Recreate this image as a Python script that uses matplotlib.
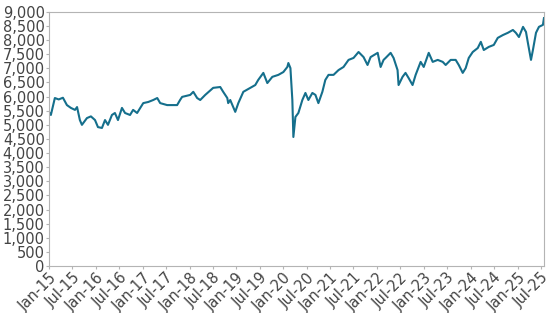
import matplotlib
matplotlib.use('Agg')
from matplotlib import pyplot as plt
import matplotlib.dates as mdates
from matplotlib.ticker import MultipleLocator, FuncFormatter
import pandas as pd

# values
dates = [
    '2015-01-02', '2015-01-16', '2015-02-16', '2015-03-18', '2015-04-20', '2015-05-21',
    '2015-06-21', '2015-07-23', '2015-08-08', '2015-08-30', '2015-09-15', '2015-10-24',
    '2015-11-24', '2015-12-26', '2016-01-18', '2016-02-18', '2016-03-13', '2016-04-05',
    '2016-05-06', '2016-05-29', '2016-06-22', '2016-07-23', '2016-08-16', '2016-09-24',
    '2016-10-18', '2016-11-18', '2017-01-05', '2017-02-13', '2017-03-24', '2017-04-24',
    '2017-05-17', '2017-07-10', '2017-09-26', '2017-10-19', '2017-11-04', '2018-01-06',
    '2018-01-30', '2018-03-01', '2018-03-25', '2018-05-03', '2018-07-04', '2018-08-28',
    '2018-09-20', '2018-10-22', '2018-10-29', '2018-11-14', '2018-12-07', '2018-12-23',
    '2019-01-16', '2019-02-24', '2019-04-19', '2019-05-28', '2019-06-20', '2019-07-30',
    '2019-08-30', '2019-10-08', '2019-11-24', '2020-01-02', '2020-02-02', '2020-02-10',
    '2020-02-26', '2020-03-12', '2020-03-20', '2020-04-05', '2020-04-28', '2020-05-29',
    '2020-06-22', '2020-07-15', '2020-08-15', '2020-09-08', '2020-10-01', '2020-11-01',
    '2020-11-24', '2020-12-19', '2021-01-27', '2021-03-07', '2021-04-15', '2021-05-24',
    '2021-07-02', '2021-08-10', '2021-09-18', '2021-10-19', '2021-11-12', '2022-01-06',
    '2022-01-29', '2022-02-21', '2022-03-09', '2022-04-17', '2022-05-10', '2022-06-10',
    '2022-06-18', '2022-07-19', '2022-08-11', '2022-09-04', '2022-10-05', '2022-10-29',
    '2022-12-07', '2022-12-31', '2023-02-08', '2023-03-11', '2023-04-19', '2023-05-28',
    '2023-06-20', '2023-07-29', '2023-09-06', '2023-09-30', '2023-10-31', '2023-11-23',
    '2023-12-17', '2024-01-17', '2024-02-25', '2024-03-20', '2024-04-12', '2024-05-21',
    '2024-06-29', '2024-07-30', '2024-09-08', '2024-10-17', '2024-11-25', '2024-12-18',
    '2025-01-11', '2025-02-12', '2025-03-07', '2025-03-22', '2025-04-15', '2025-04-30',
    '2025-05-24', '2025-06-16', '2025-07-17', '2025-07-25',
]
values = [
    5450, 5350, 5950, 5900, 5960, 5700,
    5600, 5530, 5630, 5170, 5000, 5240,
    5300, 5170, 4920, 4890, 5170, 5000,
    5350, 5420, 5170, 5600, 5420, 5350,
    5530, 5420, 5770, 5810, 5880, 5950,
    5770, 5700, 5700, 5880, 5990, 6060,
    6170, 5950, 5880, 6060, 6310, 6340,
    6170, 5950, 5770, 5880, 5630, 5460,
    5770, 6170, 6310, 6410, 6590, 6840,
    6480, 6700, 6770, 6870, 7050, 7190,
    7010, 5880, 4570, 5280, 5420, 5880,
    6130, 5880, 6130, 6060, 5770, 6170,
    6590, 6770, 6770, 6940, 7050, 7300,
    7370, 7580, 7400, 7120, 7400, 7550,
    7050, 7300, 7370, 7550, 7370, 6940,
    6410, 6700, 6840, 6660, 6410, 6770,
    7230, 7050, 7550, 7230, 7300, 7230,
    7120, 7300, 7300, 7120, 6840, 7010,
    7370, 7580, 7720, 7940, 7650, 7760,
    7830, 8080, 8180, 8260, 8360, 8260,
    8110, 8470, 8290, 7900, 7300, 7650,
    8260, 8470, 8540, 8780,
]

LINE_COLOR = '#156f8c'
SPINE_COLOR = '#b4b4b4'
TEXT_COLOR = '#444444'

x = pd.to_datetime(dates)

fig = plt.figure(figsize=(5.5, 3.13), dpi=100)
ax = fig.add_axes([0.089, 0.150, 0.900, 0.812])
ax.plot(x, values, color=LINE_COLOR, linewidth=1.5)

ax.set_xlim(pd.Timestamp('2015-01-01'), x[-1])
ax.set_ylim(0, 9000)
ax.yaxis.set_major_locator(MultipleLocator(500))
ax.yaxis.set_major_formatter(FuncFormatter(lambda v, p: '{:,.0f}'.format(v)))
ax.xaxis.set_major_locator(mdates.MonthLocator(bymonth=[1, 7]))
ax.xaxis.set_major_formatter(mdates.DateFormatter('%b-%y'))

for s in ax.spines.values():
    s.set_color(SPINE_COLOR)
ax.tick_params(axis='both', colors=SPINE_COLOR, labelcolor=TEXT_COLOR,
               labelsize=10.5, length=2, pad=1)
plt.setp(ax.get_xticklabels(), rotation=45, ha='right', rotation_mode='anchor')

fig.savefig('out.png', dpi=100)
